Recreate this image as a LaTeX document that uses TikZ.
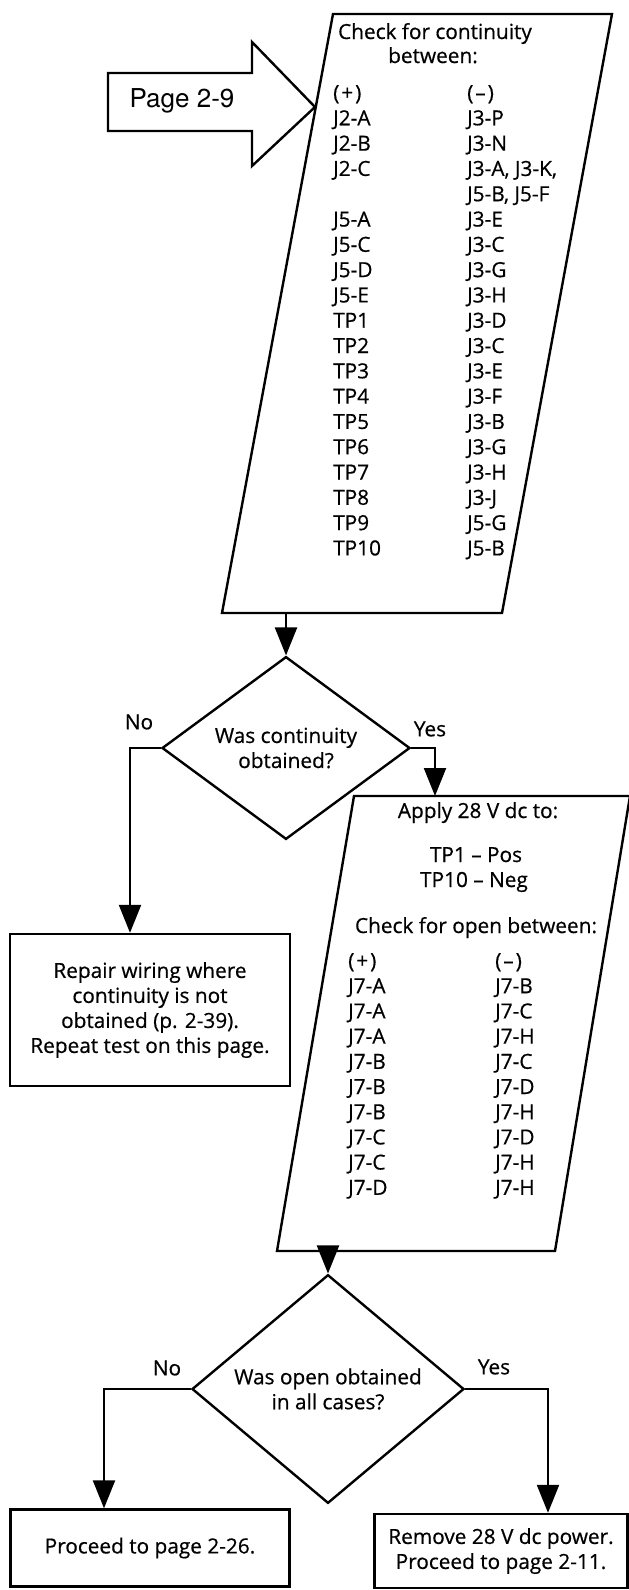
\documentclass[tikz,border=0pt]{standalone}
\usepackage{fontspec}
\setmainfont{Open Sans}[FakeBold=0.6]
\newfontfamily\helvfont{TeX Gyre Heros}
\usetikzlibrary{arrows.meta,shapes.geometric}

\tikzset{
  outline/.style={line width=2.4pt, line join=miter},
  flow/.style={line width=2.2pt, -{Triangle[length=28pt,width=22pt]}},
  txt/.style={font=\fontsize{20.8}{25}\selectfont, inner sep=0pt},
  decision/.style={diamond, draw, outline, txt, align=center},
  box/.style={rectangle, draw, outline, txt, align=center},
}

\begin{document}
\begin{tikzpicture}[x=1pt,y=-1pt]
\useasboundingbox (0,0) rectangle (629,1590);

% entry arrow
\draw[outline] (108,73) -- (252,73) -- (252,42) -- (315,107) -- (252,166)
  -- (252,131) -- (108,131) -- cycle;
\node[txt, font=\helvfont\fontsize{26}{30}\selectfont] (pg) at (182,101) {Page 2-9};

% continuity check
\draw[outline] (333,14) -- (612,14) -- (502,613) -- (222,613) -- cycle;
\node[txt, anchor=base] (chk1) at (435,39) {Check for continuity};
\node[txt, anchor=base] (btw1) at (433,63) {between:};
\node[txt, anchor=base west] (pos1) at (333,100) {(\kern2pt+\kern2pt)};
\node[txt, anchor=base west] (neg1) at (467,100) {(\kern2pt–\kern2pt)};
\foreach \a/\b [count=\i] in {J2-A/J3-P, J2-B/J3-N, J2-C/{J3-A, J3-K,},
    /{J5-B, J5-F}, J5-A/J3-E, J5-C/J3-C, J5-D/J3-G, J5-E/J3-H,
    TP1/J3-D, TP2/J3-C, TP3/J3-E, TP4/J3-F, TP5/J3-B, TP6/J3-G,
    TP7/J3-H, TP8/J3-J, TP9/J5-G, TP10/J5-B}
{
  \node[txt, anchor=base west] (pa\i) at (333,{100+25.3*\i}) {\a};
  \node[txt, anchor=base west] (na\i) at (467,{100+25.3*\i}) {\b};
}
\coordinate (out1) at (286,613);

% first decision
\node[decision, minimum width=248pt, minimum height=170pt] (d1) at (286,748)
  {Was continuity\\obtained?};
\node[txt] (no1) at (139,722) {No};
\node[txt] (yes1) at (430,729) {Yes};

\node[box, minimum width=280pt, minimum height=152pt] (rep) at (150,1010)
  {Repair wiring where\\continuity is not\\obtained (p. 2-39).\\Repeat test on this page.};

% open check
\draw[outline] (354,796) -- (630,796) -- (555,1251) -- (277,1251) -- cycle;
\coordinate (in2) at (435,796);
\node[txt, anchor=base] (app) at (478,818) {Apply 28 V dc to:};
\node[txt, anchor=base] (tp1) at (476,862) {TP1 – Pos};
\node[txt, anchor=base] (tp10) at (474,887) {TP10 – Neg};
\node[txt, anchor=base] (chk2) at (476,933) {Check for open between:};
\node[txt, anchor=base west] (pos2) at (348,968) {(\kern2pt+\kern2pt)};
\node[txt, anchor=base west] (neg2) at (495,968) {(\kern2pt–\kern2pt)};
\foreach \a/\b [count=\i] in {J7-A/J7-B, J7-A/J7-C, J7-A/J7-H, J7-B/J7-C,
    J7-B/J7-D, J7-B/J7-H, J7-C/J7-D, J7-C/J7-H, J7-D/J7-H}
{
  \node[txt, anchor=base west] (pb\i) at (348,{968+25.2*\i}) {\a};
  \node[txt, anchor=base west] (nb\i) at (495,{968+25.2*\i}) {\b};
}
\coordinate (out2) at (328,1251);

% second decision
\node[decision, minimum width=272pt, minimum height=196pt] (d2) at (328,1389)
  {Was open obtained\\in all cases?};
\node[txt] (no2) at (167,1368) {No};
\node[txt] (yes2) at (494,1367) {Yes};

\node[box, minimum width=279pt, minimum height=77pt] (lbox) at (150,1548)
  {Proceed to page 2-26.};
\node[box, minimum width=253pt, minimum height=74pt] (rbox) at (501,1551)
  {Remove 28 V dc power.\\Proceed to page 2-11.};

% connectors
\draw[flow] (out1) -- (d1.north);
\draw[flow] (d1.west) -| ([xshift=-20pt]rep.north);
\draw[flow] (d1.east) -| (in2);
\draw[flow] (out2) -- (d2.north);
\draw[flow] (d2.west) -| ([xshift=-46pt]lbox.north);
\draw[flow] (d2.east) -| ([xshift=47pt]rbox.north);

\end{tikzpicture}
\end{document}
